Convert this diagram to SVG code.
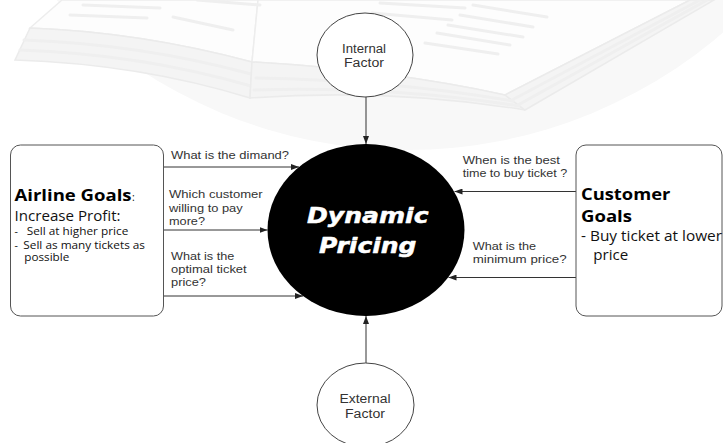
<svg xmlns="http://www.w3.org/2000/svg" width="723" height="443" viewBox="0 0 723 443">
<defs>
<style>
.bg{fill:#f8f8f8;}
.pg{fill:#fdfdfd;stroke:#ededed;stroke-width:1.5;}
.stk{fill:#f4f4f4;stroke:#ebebeb;stroke-width:1.5;}
.wl{stroke:#efefef;stroke-width:3;stroke-linecap:round;fill:none;}
.el{fill:#fff;stroke:#444;stroke-width:1;}
.box{fill:#fff;stroke:#555;stroke-width:1;}
.q{font-family:"Liberation Sans",Arial,sans-serif;font-size:11px;fill:#333;}
.f{font-family:"Liberation Sans",Arial,sans-serif;font-size:12px;fill:#333;text-anchor:middle;}
.h{font-family:"Open Sans",sans-serif;font-weight:bold;font-size:16px;fill:#000;}
.m{font-family:"Open Sans",sans-serif;font-size:14px;fill:#111;}
.s{font-family:"Open Sans",sans-serif;font-size:10.5px;fill:#111;}
.dp{font-family:"DejaVu Sans",Verdana,sans-serif;font-weight:bold;font-style:italic;font-size:21px;fill:#fff;stroke:#fff;stroke-width:0.5;stroke-linejoin:round;}
.c{stroke:#333;stroke-width:1;fill:none;marker-end:url(#ah);}
</style>
<marker id="ah" markerUnits="userSpaceOnUse" markerWidth="8" markerHeight="6" refX="8" refY="3" orient="auto">
<path d="M0,0 L8,3 L0,6 Z" fill="#222"/>
</marker>
</defs>
<rect width="723" height="443" fill="#fff"/>
<g id="watermark">
<circle class="bg" cx="407" cy="-334" r="484"/>
<path class="pg" d="M62,0 L30,28 Q140,32 252,62 L258,0 Z"/>
<path class="stk" d="M30,28 L15,60 Q140,64 250,98 L252,62 Q140,32 30,28 Z"/>
<path class="wl" d="M24,40 Q140,44 251,74 M20,50 Q140,54 251,86"/>
<path class="pg" d="M258,0 L252,62 Q390,70 505,95 L690,0 Z"/>
<path class="stk" d="M252,62 Q390,70 505,95 L525,110 Q390,88 250,98 Z"/>
<path class="stk" d="M505,95 L525,110 L714,0 L690,0 Z"/>
<path class="wl" d="M256,78 Q390,80 513,101 M254,90 Q390,86 519,106 M512,100 L700,0 M518,105 L707,0"/>
<path class="wl" d="M83,5 L160,8 M70,15 L147,18 M197,0 L260,5 M173,17 L233,30 M473,5 L547,17 M460,15 L533,27 M448,25 L523,37 M437,33 L510,45 M425,43 L498,54 M380,3 L465,8 M372,13 L452,20"/>
</g>
<g id="connectors">
<path class="c" d="M163.5,167 H299"/>
<path class="c" d="M163.5,230 H267.5"/>
<path class="c" d="M163.5,296 H303"/>
<path class="c" d="M576,191.5 H454.5"/>
<path class="c" d="M576,277.5 H448.5"/>
<path class="c" d="M366,97 V144"/>
<path class="c" d="M366,363 V316"/>
</g>
<g id="internal">
<ellipse class="el" cx="365" cy="55" rx="48" ry="42"/>
<text class="f" x="364" y="53" textLength="44" lengthAdjust="spacingAndGlyphs">Internal</text>
<text class="f" x="364" y="67" textLength="40" lengthAdjust="spacingAndGlyphs">Factor</text>
</g>
<g id="external">
<ellipse class="el" cx="365.5" cy="405" rx="48.5" ry="42"/>
<text class="f" x="365" y="403" textLength="51" lengthAdjust="spacingAndGlyphs">External</text>
<text class="f" x="365" y="418" textLength="40" lengthAdjust="spacingAndGlyphs">Factor</text>
</g>
<g id="dynamic-pricing">
<ellipse cx="366" cy="230" rx="98.5" ry="86" fill="#000"/>
<text class="dp" x="307" y="223" textLength="121.5" lengthAdjust="spacingAndGlyphs">Dynamic</text>
<text class="dp" x="319" y="252.5" textLength="97.5" lengthAdjust="spacingAndGlyphs">Pricing</text>
</g>
<g id="airline-goals">
<rect class="box" x="10.5" y="145" width="153" height="171" rx="10"/>
<text class="h" x="14.5" y="200.5" textLength="117" lengthAdjust="spacingAndGlyphs">Airline Goals</text>
<text class="s" x="132" y="200.5" font-size="9">:</text>
<text class="m" x="14.5" y="220.5" textLength="106" lengthAdjust="spacingAndGlyphs">Increase Profit:</text>
<text class="s" x="14.5" y="235">-</text>
<text class="s" x="26.7" y="235" textLength="101.6" lengthAdjust="spacingAndGlyphs">Sell at higher price</text>
<text class="s" x="14.5" y="248.5">-</text>
<text class="s" x="23.3" y="248.5" textLength="121.7" lengthAdjust="spacingAndGlyphs">Sell as many tickets as</text>
<text class="s" x="24.3" y="261" textLength="45" lengthAdjust="spacingAndGlyphs">possible</text>
</g>
<g id="customer-goals">
<rect class="box" x="576" y="145" width="146" height="171" rx="10"/>
<text class="h" x="581" y="200" textLength="89.3" lengthAdjust="spacingAndGlyphs">Customer</text>
<text class="h" x="581" y="222" textLength="51" lengthAdjust="spacingAndGlyphs">Goals</text>
<text class="m" x="581" y="241" textLength="141" lengthAdjust="spacingAndGlyphs">- Buy ticket at lower</text>
<text class="m" x="593.3" y="260" textLength="35" lengthAdjust="spacingAndGlyphs">price</text>
</g>
<g id="labels">
<text class="q" x="171" y="159" textLength="118" lengthAdjust="spacingAndGlyphs">What is the dimand?</text>
<text class="q" x="169" y="198.3" textLength="93.7" lengthAdjust="spacingAndGlyphs">Which customer</text>
<text class="q" x="169" y="212" textLength="73.7" lengthAdjust="spacingAndGlyphs">willing to pay</text>
<text class="q" x="169" y="225" textLength="36" lengthAdjust="spacingAndGlyphs">more?</text>
<text class="q" x="171" y="260" textLength="63.3" lengthAdjust="spacingAndGlyphs">What is the</text>
<text class="q" x="171" y="273" textLength="75.7" lengthAdjust="spacingAndGlyphs">optimal ticket</text>
<text class="q" x="171" y="286" textLength="35" lengthAdjust="spacingAndGlyphs">price?</text>
<text class="q" x="462.7" y="164" textLength="97.3" lengthAdjust="spacingAndGlyphs">When is the best</text>
<text class="q" x="462.7" y="176.5" textLength="104.6" lengthAdjust="spacingAndGlyphs">time to buy ticket ?</text>
<text class="q" x="472.7" y="250" textLength="63.3" lengthAdjust="spacingAndGlyphs">What is the</text>
<text class="q" x="472.7" y="262.7" textLength="94" lengthAdjust="spacingAndGlyphs">minimum price?</text>
</g>
</svg>
